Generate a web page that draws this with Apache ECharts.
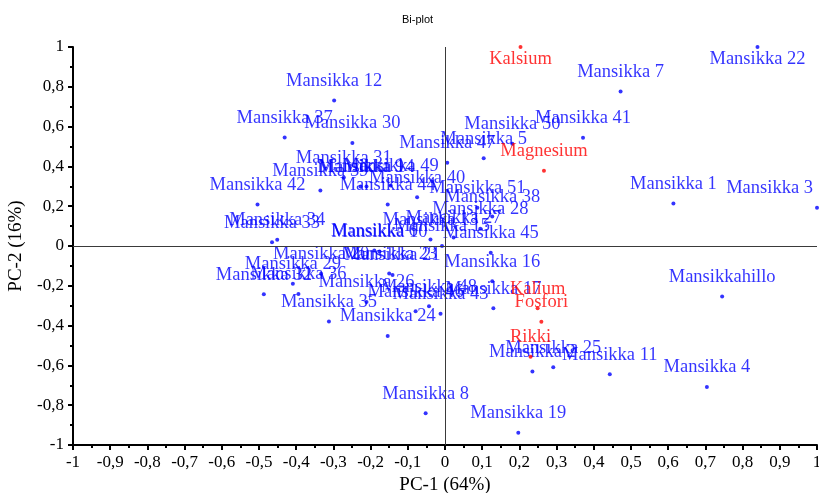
<!DOCTYPE html>
<html>
<head>
<meta charset="utf-8">
<script src="https://cdn.jsdelivr.net/npm/echarts@6/dist/echarts.min.js"></script>
<style>
  html, body { margin: 0; padding: 0; background: #fff; }
  #chart { width: 819px; height: 493px; }
</style>
</head>
<body>
<div id="chart"></div>
<script>
// PCA bi-plot: strawberry samples (scores) and elements (loadings)
const sampleNames = [
  'Mansikka 22', 'Mansikka 7', 'Mansikka 41', 'Mansikka 1', 'Mansikka 3',
  'Mansikkahillo', 'Mansikka 11', 'Mansikka 4', 'Mansikka 8', 'Mansikka 19',
  'Mansikka 16', 'Mansikka 45', 'Mansikka 17', 'Mansikka 25', 'Mansikka 2',
  'Mansikka 50', 'Mansikka 5', 'Mansikka 47', 'Mansikka 40', 'Mansikka 12',
  'Mansikka 37', 'Mansikka 30', 'Mansikka 31', 'Mansikka 42', 'Mansikka 39',
  'Mansikka 44', 'Mansikka 49', 'Mansikka 9', 'Mansikka 14', 'Mansikka 34',
  'Mansikka 33', 'Mansikka 6', 'Mansikka 10', 'Mansikka 28', 'Mansikka 27',
  'Mansikka 15', 'Mansikka 13', 'Mansikka 51', 'Mansikka 38', 'Mansikka 20',
  'Mansikka 23', 'Mansikka 21', 'Mansikka 29', 'Mansikka 36', 'Mansikka 32',
  'Mansikka 35', 'Mansikka 26', 'Mansikka 24', 'Mansikka 48', 'Mansikka 43',
  'Mansikka 46'
];
const sampleX = [
  0.84, 0.472, 0.371, 0.614, 1.0,
  0.745, 0.443, 0.704, -0.052, 0.197,
  0.127, 0.123, 0.130, 0.291, 0.235,
  0.181, 0.104, 0.006, -0.075, -0.298,
  -0.431, -0.249, -0.272, -0.504, -0.335,
  -0.154, -0.146, -0.227, -0.211, -0.451,
  -0.465, -0.190, -0.176, 0.095, 0.023,
  -0.008, -0.039, 0.087, 0.127, -0.333,
  -0.150, -0.141, -0.409, -0.394, -0.487,
  -0.312, -0.211, -0.154, -0.043, -0.012,
  -0.079
];
const sampleY = [
  1.0, 0.776, 0.544, 0.214, 0.192,
  -0.254, -0.644, -0.708, -0.840, -0.939,
  -0.177, -0.034, -0.313, -0.609, -0.631,
  0.514, 0.441, 0.418, 0.245, 0.731,
  0.545, 0.517, 0.344, 0.208, 0.279,
  0.208, 0.304, 0.299, 0.299, 0.031,
  0.019, -0.023, -0.028, 0.087, 0.043,
  0.0, 0.033, 0.192, 0.148, -0.140,
  -0.138, -0.146, -0.190, -0.241, -0.243,
  -0.379, -0.282, -0.452, -0.303, -0.340,
  -0.328
];

const variableNames = ['Kalsium', 'Magnesium', 'Kalium', 'Fosfori', 'Rikki'];
const variableX = [0.203, 0.266, 0.249, 0.259, 0.230];
const variableY = [1.0, 0.378, -0.313, -0.381, -0.556];

const xTicks = { min: -1, max: 1, step: 0.1 };
const yTicks = { min: -1, max: 1, step: 0.2 };

const W = 819, H = 493;
const GRID = { left: 73, right: 2, top: 47, bottom: 48 };
const SERIF = '"Liberation Serif", "Times New Roman", serif';

function commaFmt(v) {
  return String(+Number(v).toFixed(1)).replace('.', ',');
}

// keep point labels inside the plotting area
function keepInside(p) {
  const r = p.labelRect;
  const cx = r.x + r.width / 2;
  const cy = r.y + r.height / 2;
  const maxCx = W - GRID.right - r.width / 2 - 4;
  const minCx = GRID.left + r.width / 2 + 2;
  const minCy = GRID.top + r.height / 2 + 3;
  const nx = Math.min(Math.max(cx, minCx), maxCx);
  const ny = Math.max(cy, minCy);
  return { dx: nx - cx, dy: ny - cy };
}

function pointSeries(names, xs, ys, color, z) {
  return {
    type: 'scatter',
    symbol: 'circle',
    symbolSize: 4,
    z: z,
    itemStyle: { color: color },
    data: names.map((n, i) => ({ name: n, value: [xs[i], ys[i]] })),
    label: {
      show: true,
      position: 'top',
      distance: 8,
      formatter: '{b}',
      color: color,
      fontFamily: SERIF,
      fontSize: 18.5
    },
    labelLayout: keepInside,
    emphasis: { disabled: true }
  };
}

const chart = echarts.init(document.getElementById('chart'), null, { renderer: 'canvas' });

const axisCommon = {
  axisLine: { onZero: false, lineStyle: { color: '#000', width: 2 } },
  axisTick: { show: true, inside: false, length: 5, lineStyle: { color: '#000', width: 2 } },
  minorTick: { show: true, splitNumber: 2, length: 3, lineStyle: { color: '#000', width: 2 } },
  splitLine: { show: false },
  axisLabel: {
    color: '#000', fontFamily: SERIF, fontSize: 17, margin: 9,
    formatter: commaFmt
  },
  nameTextStyle: { color: '#000', fontFamily: SERIF, fontSize: 19 },
  nameLocation: 'middle'
};

const blueSeries = pointSeries(sampleNames, sampleX, sampleY, '#0000ff', 3);
// origin cross lines
blueSeries.markLine = {
  silent: true,
  symbol: ['none', 'none'],
  label: { show: false },
  lineStyle: { color: '#3a3a3a', width: 1, type: 'solid' },
  data: [{ xAxis: 0 }, { yAxis: 0 }]
};

chart.setOption({
  animation: false,
  backgroundColor: '#fff',
  title: {
    text: 'Bi-plot',
    left: 397,
    top: 9,
    textStyle: { fontFamily: '"Liberation Sans", Arial, sans-serif', fontSize: 11, fontWeight: 'normal', color: '#000' }
  },
  grid: Object.assign({ outerBoundsMode: 'none', containLabel: false }, GRID),
  xAxis: Object.assign({}, axisCommon, {
    type: 'value',
    min: xTicks.min, max: xTicks.max, interval: xTicks.step,
    name: 'PC-1 (64%)',
    nameGap: 30
  }),
  yAxis: Object.assign({}, axisCommon, {
    type: 'value',
    min: yTicks.min, max: yTicks.max, interval: yTicks.step,
    name: 'PC-2 (16%)',
    nameGap: 47
  }),
  series: [
    blueSeries,
    pointSeries(variableNames, variableX, variableY, '#ff0000', 4)
  ]
});
</script>
</body>
</html>
